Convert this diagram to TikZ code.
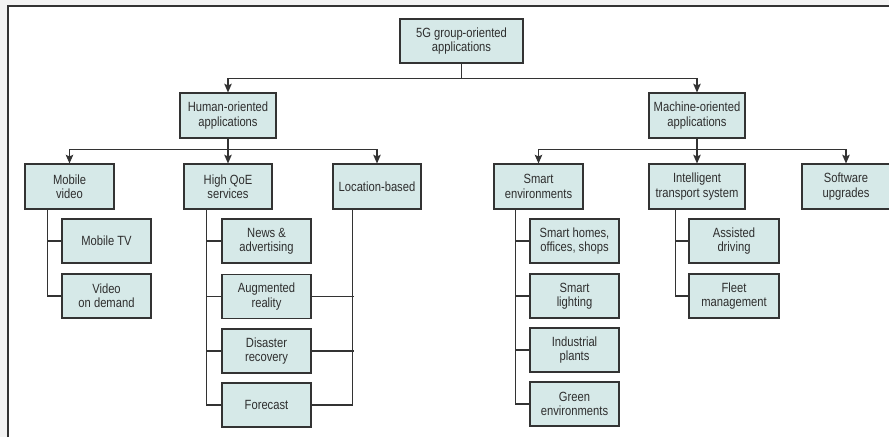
\documentclass[tikz,border=0pt]{standalone}
\usepackage{fontspec}
\setmainfont{Liberation Sans}[FakeStretch=0.84]
\usetikzlibrary{arrows.meta,calc}
\definecolor{boxfill}{HTML}{D6E9E8}
\definecolor{lineclr}{HTML}{333333}
\definecolor{txtclr}{HTML}{2E2E2E}
\definecolor{bgout}{HTML}{F3F3F3}
\begin{document}
\begin{tikzpicture}[x=0.75pt,y=-0.75pt,
  box/.style={draw=lineclr,fill=boxfill,line width=0.8pt,inner sep=0pt,align=center,
    text=txtclr,font=\fontsize{10}{10.8}\selectfont},
  bigbox/.style={box,minimum width=72pt,minimum height=33.75pt},
  midbox/.style={box,minimum width=66.75pt,minimum height=33.75pt},
  leafbox/.style={box,minimum width=66.75pt,minimum height=33pt},
  conn/.style={draw=lineclr,line width=0.8pt},
  arr/.style={conn,-{Stealth[length=6.5pt,width=5.6pt,inset=1.2pt]}}]
\useasboundingbox (0,0) rectangle (889,437);
\fill[white] (0,0) rectangle (889,437);
\fill[bgout] (0,0) rectangle (889,6);
\fill[bgout] (0,0) rectangle (8,437);
\draw[conn] (8,437) -- (8,6) -- (889,6);

% level 0
\node[box,minimum width=92.25pt,minimum height=33pt] (root) at (461.5,41) {5G group-oriented\\applications};
% level 1
\node[bigbox] (human) at (228,115.5) {Human-oriented\\applications};
\node[bigbox] (machine) at (697,115.5) {Machine-oriented\\applications};
% level 2
\node[midbox] (mv) at (69.5,186.5) {Mobile\\video};
\node[midbox,minimum width=66pt] (hq) at (228,186.5) {High QoE\\services};
\node[midbox,minimum width=66pt] (loc) at (377,186.5) {Location-based};
\node[midbox] (se) at (538.5,186.5) {Smart\\environments};
\node[bigbox] (its) at (697,186.5) {Intelligent\\transport system};
\node[midbox,minimum width=66pt] (sw) at (846,186.5) {Software\\upgrades};
% level 3
\node[leafbox] (mtv) at (106.5,241) {Mobile TV};
\node[leafbox] (vod) at (106.5,296) {Video\\on demand};
\node[leafbox] (news) at (266.5,241) {News \&\\advertising};
\node[leafbox] (aug) at (266.5,296.5) {Augmented\\reality};
\node[leafbox] (dis) at (266.5,351) {Disaster\\recovery};
\node[leafbox] (fc) at (266.5,405) {Forecast};
\node[leafbox] (sh) at (574.5,241) {Smart homes,\\offices, shops};
\node[leafbox] (sl) at (574.5,296) {Smart\\lighting};
\node[leafbox] (ip) at (574.5,350) {Industrial\\plants};
\node[leafbox] (ge) at (574.5,404) {Green\\environments};
\node[leafbox,minimum width=67.5pt] (ad) at (734,241) {Assisted\\driving};
\node[leafbox,minimum width=67.5pt] (fm) at (734,296) {Fleet\\management};

% connectors level 0 -> 1
\draw[arr] (root.south) -- ++(0,15) -| (human.north);
\draw[arr] (root.south) -- ++(0,15) -| (machine.north);
% level 1 -> 2
\draw[arr] (human.south) -- ++(0,11) -| (mv.north);
\draw[arr] (human.south) -- (hq.north);
\draw[arr] (human.south) -- ++(0,11) -| (loc.north);
\draw[arr] (machine.south) -- ++(0,11) -| (se.north);
\draw[arr] (machine.south) -- (its.north);
\draw[arr] (machine.south) -- ++(0,11) -| (sw.north);
% level 2 -> 3
\coordinate (mvl) at ($(mv.south west)+(23,0)$);
\draw[conn] (mvl) |- (mtv.west);
\draw[conn] (mvl) |- (vod.west);
\coordinate (hql) at ($(hq.south west)+(23,0)$);
\draw[conn] (hql) |- (news.west);
\draw[conn] (hql) |- (aug.west);
\draw[conn] (hql) |- (dis.west);
\draw[conn] (hql) |- (fc.west);
\coordinate (locl) at ($(loc.south west)+(20,0)$);
\draw[conn] (locl) |- (fc.east);
\draw[conn] (aug.east) -- ($(aug.east -| locl)+(2,0)$);
\draw[conn] (dis.east) -- ($(dis.east -| locl)+(2,0)$);
\coordinate (sel) at ($(se.south west)+(22,0)$);
\draw[conn] (sel) |- (sh.west);
\draw[conn] (sel) |- (sl.west);
\draw[conn] (sel) |- (ip.west);
\draw[conn] (sel) |- (ge.west);
\coordinate (itsl) at ($(its.south west)+(27,0)$);
\draw[conn] (itsl) |- (ad.west);
\draw[conn] (itsl) |- (fm.west);
\end{tikzpicture}
\end{document}
